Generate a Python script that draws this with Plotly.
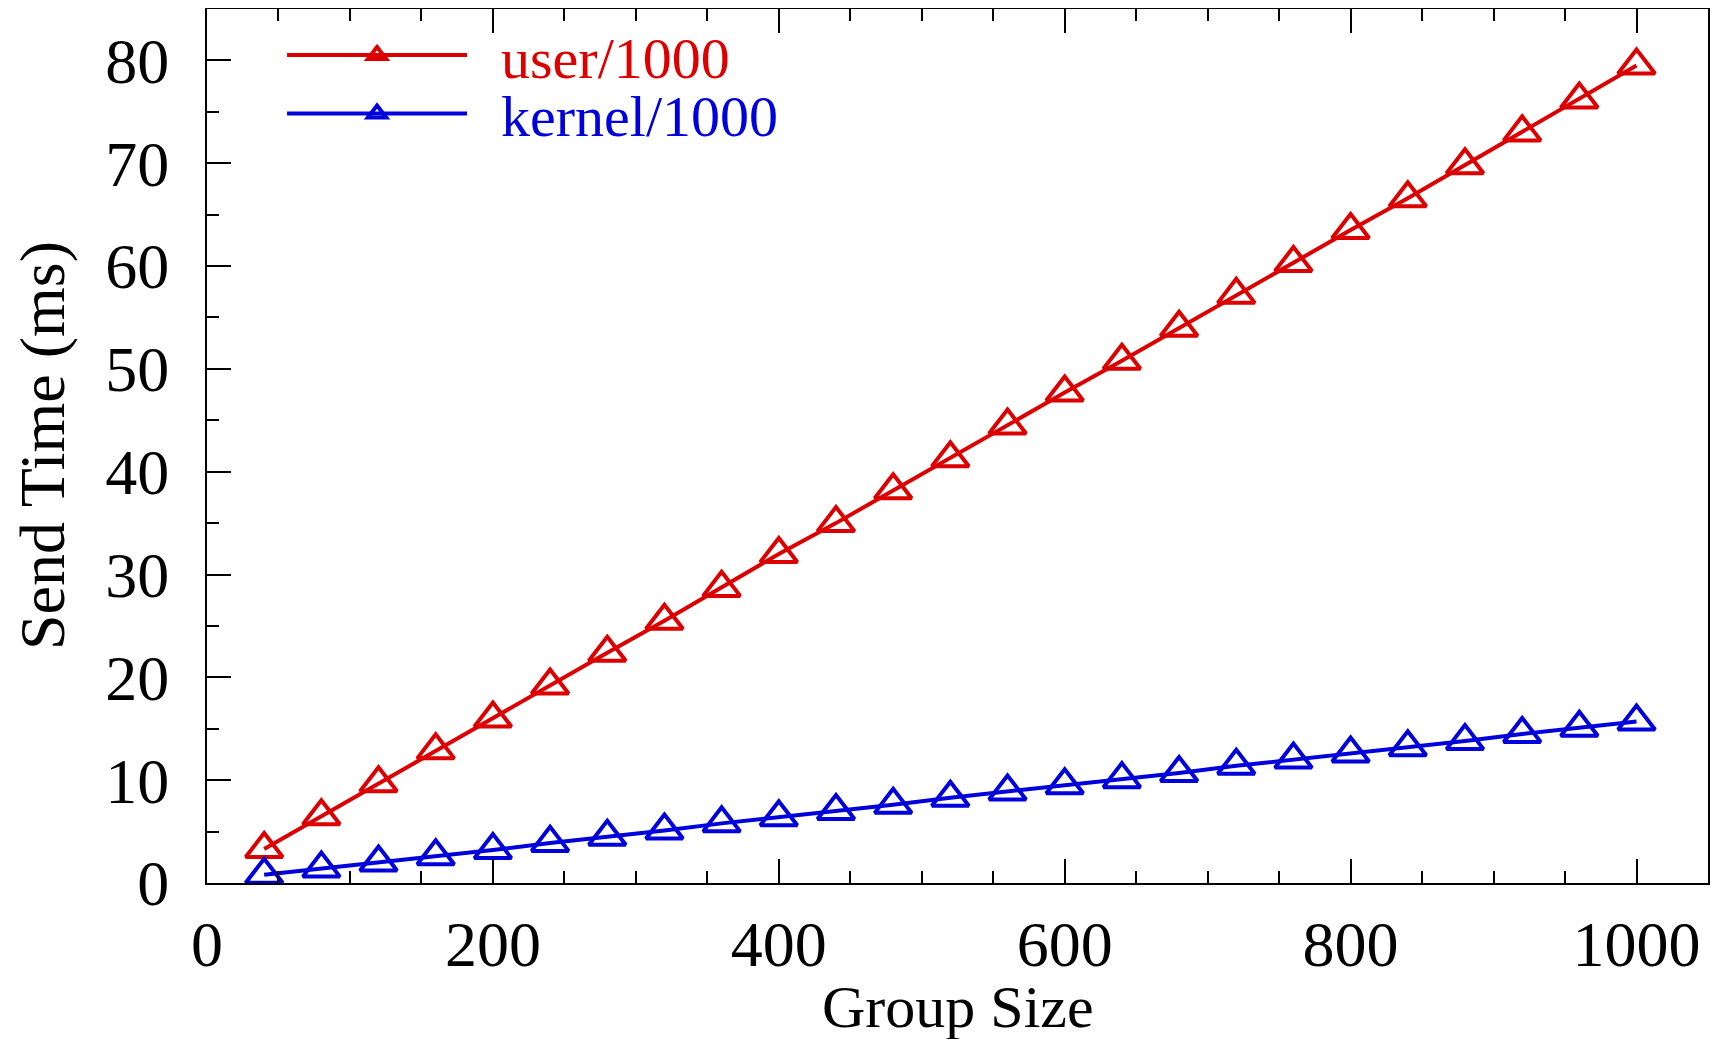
import plotly.graph_objects as go

group_size = [40, 80, 120, 160, 200, 240, 280, 320, 360, 400, 440, 480, 520,
              560, 600, 640, 680, 720, 760, 800, 840, 880, 920, 960, 1000]
user_ms = [3.3, 6.5, 9.7, 12.9, 16.0, 19.2, 22.4, 25.5, 28.7, 32.0, 35.0, 38.2, 41.3,
           44.5, 47.7, 50.8, 54.0, 57.2, 60.3, 63.5, 66.6, 69.8, 73.0, 76.2, 79.5]
kernel_ms = [0.8, 1.4, 2.0, 2.6, 3.2, 3.9, 4.5, 5.1, 5.8, 6.4, 7.0, 7.6, 8.3,
             8.9, 9.5, 10.1, 10.7, 11.4, 12.0, 12.6, 13.2, 13.8, 14.5, 15.1, 15.7]

RED = "rgb(220,0,0)"
BLUE = "rgb(0,0,220)"
FONT = "Liberation Serif"
FS = 64

fig = go.Figure()
for name, ys, col, lg in [("user/1000", user_ms, RED, "legend"),
                          ("kernel/1000", kernel_ms, BLUE, "legend2")]:
    fig.add_trace(go.Scatter(
        x=group_size, y=ys, mode="lines+markers",
        name=f"<span style='color:{col}'>\u00a0\u00a0{name}</span>",
        line=dict(color=col, width=4),
        marker=dict(symbol="triangle-up-open", size=32, color=col,
                    line=dict(color=col, width=4)),
        legend=lg,
    ))

leg_common = dict(x=0.05, xanchor="left", yanchor="middle",
                  bgcolor="rgba(0,0,0,0)", font=dict(size=58),
                  itemwidth=180, tracegroupgap=0)

fig.update_layout(
    width=1717, height=1031,
    paper_bgcolor="white", plot_bgcolor="white",
    margin=dict(l=199, r=17, t=1, b=156, autoexpand=False),
    font=dict(family=FONT, size=FS, color="black"),
    legend=dict(y=0.947, **leg_common),
    legend2=dict(y=0.880, **leg_common),
    showlegend=True,
    annotations=[
        dict(text="Group Size", xref="paper", yref="paper", x=0.5, y=0,
             yshift=-124, xanchor="center", yanchor="middle", showarrow=False,
             font=dict(size=60)),
        dict(text="Send Time (ms)", xref="paper", yref="paper", x=0, y=0.5,
             xshift=-165, xanchor="center", yanchor="middle", showarrow=False,
             textangle=-90, font=dict(size=FS)),
    ],
)
fig.update_xaxes(
    range=[0, 1050], tickvals=[0, 200, 400, 600, 800, 1000],
    ticks="inside", ticklen=24, tickwidth=2, tickcolor="black",
    minor=dict(dtick=50, ticks="inside", ticklen=12, tickwidth=2, tickcolor="black"),
    showline=True, linecolor="black", linewidth=2, mirror="ticks",
    showgrid=False, zeroline=False, automargin=False,
    ticklabelstandoff=4,
)
fig.update_yaxes(
    range=[0, 85], tickvals=[0, 10, 20, 30, 40, 50, 60, 70, 80],
    ticks="inside", ticklen=24, tickwidth=2, tickcolor="black",
    minor=dict(dtick=5, ticks="inside", ticklen=12, tickwidth=2, tickcolor="black"),
    showline=True, linecolor="black", linewidth=2, mirror=True,
    showgrid=False, zeroline=False, automargin=False,
    ticklabelstandoff=23,
)

fig.write_html("out.html")
